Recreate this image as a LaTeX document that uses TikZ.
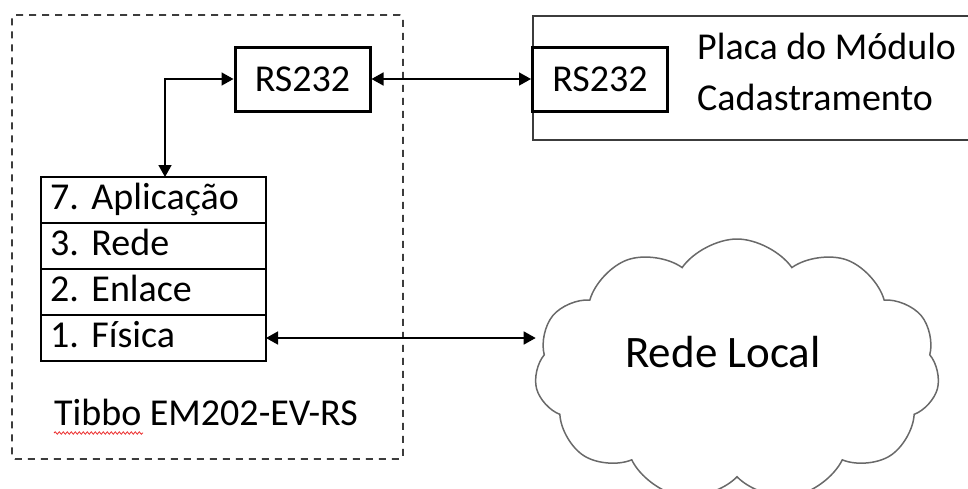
\documentclass[tikz,border=0pt]{standalone}
\usepackage{fontspec}
\setmainfont{Carlito}
\usetikzlibrary{positioning,arrows.meta,shapes.symbols,decorations.pathmorphing}
\definecolor{frameGray}{RGB}{60,60,60}
\definecolor{cloudGray}{RGB}{105,105,105}
\definecolor{spellRed}{RGB}{235,45,45}

\begin{document}
\begin{tikzpicture}[x=1pt,y=-1pt,
    font=\fontsize{38}{51}\selectfont,
    port/.style={draw,line width=3pt,minimum width=135pt,minimum height=64pt,inner sep=0pt},
    layer/.style={draw,line width=1.3pt,outer sep=0pt,minimum height=46pt,text width=207pt,inner xsep=9pt,inner ysep=0pt,text height=26pt,text depth=7pt,align=left},
    txt/.style={inner sep=0pt},
    arr/.style={{Triangle[length=12pt,width=13pt]}-{Triangle[length=12pt,width=13pt]},line width=1.6pt}]
    \useasboundingbox (0,0) rectangle (968,488);
    % Tibbo module
    \node[draw=frameGray,dashed,dash pattern=on 7pt off 6pt,line width=1.6pt,rounded corners=3pt,
          minimum width=391pt,minimum height=444pt] (tibbo) at (207.5,237) {};
    \node[port] (rsA) at (302.5,79) {RS232};
    \node[layer] (app) at (153.5,200) {7.\ Aplicação};
    \node[layer,below=0pt of app] (rede) {3.\ Rede};
    \node[layer,below=0pt of rede] (enl) {2.\ Enlace};
    \node[layer,below=0pt of enl] (fis) {1.\ Física};
    \node[txt,anchor=base west] (tibbolbl) at (54,425) {Tibbo EM202-EV-RS};
    \draw[spellRed,line width=0.8pt,decorate,decoration={snake,amplitude=1.2pt,segment length=4pt}]
      ([yshift=-8pt]tibbolbl.base west) -- ++(89,0);
    % board
    \node[draw=frameGray,line width=1.5pt,anchor=north west,minimum width=500pt,minimum height=124pt] (placa) at (532,15) {};
    \node[port] (rsB) at (600,79) {RS232};
    \node[txt,anchor=base west,align=left] (placalbl) at (697,110) {Placa do Módulo\\Cadastramento};
    % network
    \node[cloud,draw=cloudGray,line width=1.5pt,cloud puffs=11,cloud puff arc=110,aspect=1.6,
          minimum width=405pt,minimum height=262pt,inner sep=0pt] (net) at (737,370) {};
    \node[txt,font=\fontsize{45}{50}\selectfont] (netlbl) at (723,352) {Rede Local};
    \draw[arr] (rsA.east) -- (rsB.west);
    \draw[arr] (rsA.west) -| ([xshift=11.5pt]app.north);
    \draw[arr] (fis.east) -- (fis.east -| net.west);
\end{tikzpicture}
\end{document}
